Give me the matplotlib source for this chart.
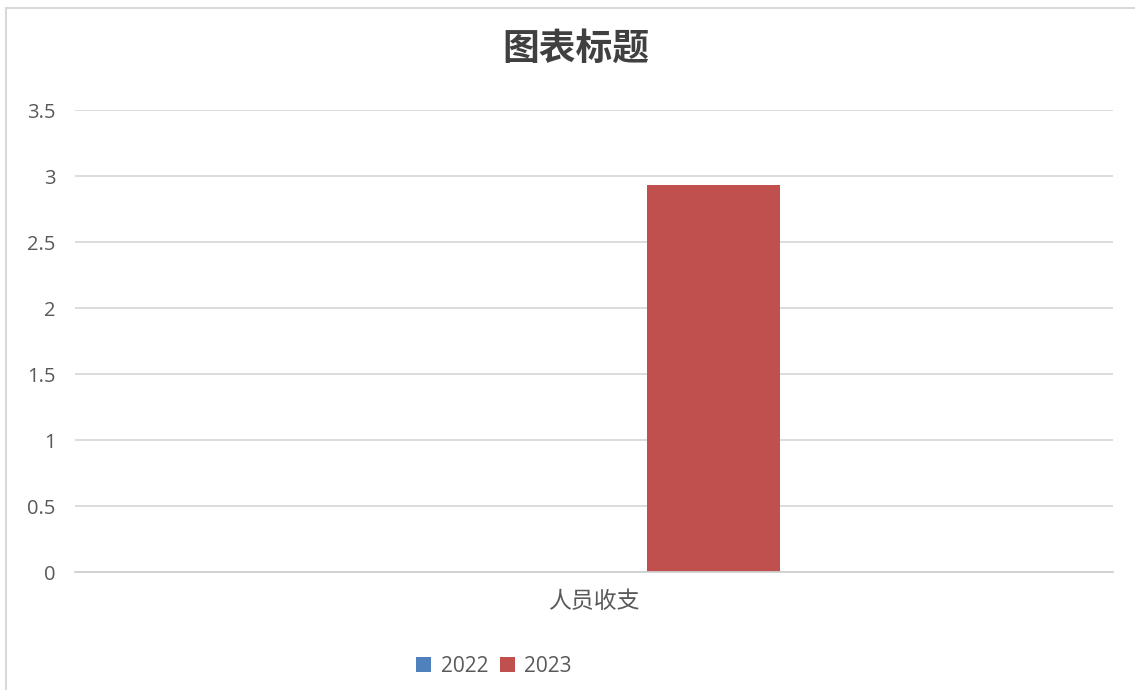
import numpy as np
import matplotlib.pyplot as plt
from matplotlib.patches import Rectangle

plt.rcParams['font.family'] = ['Open Sans', 'Noto Sans CJK SC', 'DejaVu Sans']

categories = ['人员收支']
series = ['2022', '2023']
values_2022 = [0.0]
values_2023 = [2.93]
colors = ['#4F81BD', '#C0504D']
yticks = [0, 0.5, 1, 1.5, 2, 2.5, 3, 3.5]
ytick_labels = ['0', '0.5', '1', '1.5', '2', '2.5', '3', '3.5']

W, H = 1135, 690
fig = plt.figure(figsize=(W / 100, H / 100), dpi=100)
ax = fig.add_axes([75 / W, 1 - 572 / H, (1113 - 75) / W, (572 - 110) / H])

x = np.arange(len(categories))
bw = 133 / 1038
off = 119.5 / 1038
b1 = ax.bar(x - off, values_2022, bw, color=colors[0], label=series[0], zorder=3)
b2 = ax.bar(x + off, values_2023, bw, color=colors[1], label=series[1], zorder=3)

ax.set_xlim(-0.5, 0.5)
ax.set_ylim(0, 3.5)
ax.set_yticks(yticks)
ax.set_yticklabels(ytick_labels)
ax.set_xticks(x)
ax.set_xticklabels(categories, fontsize=16.5, color='#595959')
ax.tick_params(axis='y', length=0, pad=14, labelsize=14.5, labelcolor='#595959')
ax.tick_params(axis='x', length=0, pad=13)
ax.grid(axis='y', color='#d9d9d9', linewidth=1.3, zorder=0)
for s in ['top', 'right', 'left']:
    ax.spines[s].set_visible(False)
ax.spines['bottom'].set_color('#d0d0d0')
ax.spines['bottom'].set_linewidth(1.3)
ax.spines['bottom'].set_zorder(4)

fig.text(576 / W, 1 - 50 / H, '图表标题', ha='center', va='center',
         fontsize=26.5, fontweight='bold', color='#404040')

fig.legend(handles=[b1, b2], loc='center', bbox_to_anchor=(494 / W, 1 - 666 / H),
           ncol=2, frameon=False, fontsize=15, handlelength=0.72, handleheight=0.72,
           handletextpad=0.45, columnspacing=0.55, labelcolor='#595959')

fig.patches.append(Rectangle((6 / W, -0.1), 1.2, 1 - 8 / H + 0.1, transform=fig.transFigure,
                             fill=False, edgecolor='#d9d9d9', linewidth=1.5))

fig.savefig('out.png', dpi=100)
